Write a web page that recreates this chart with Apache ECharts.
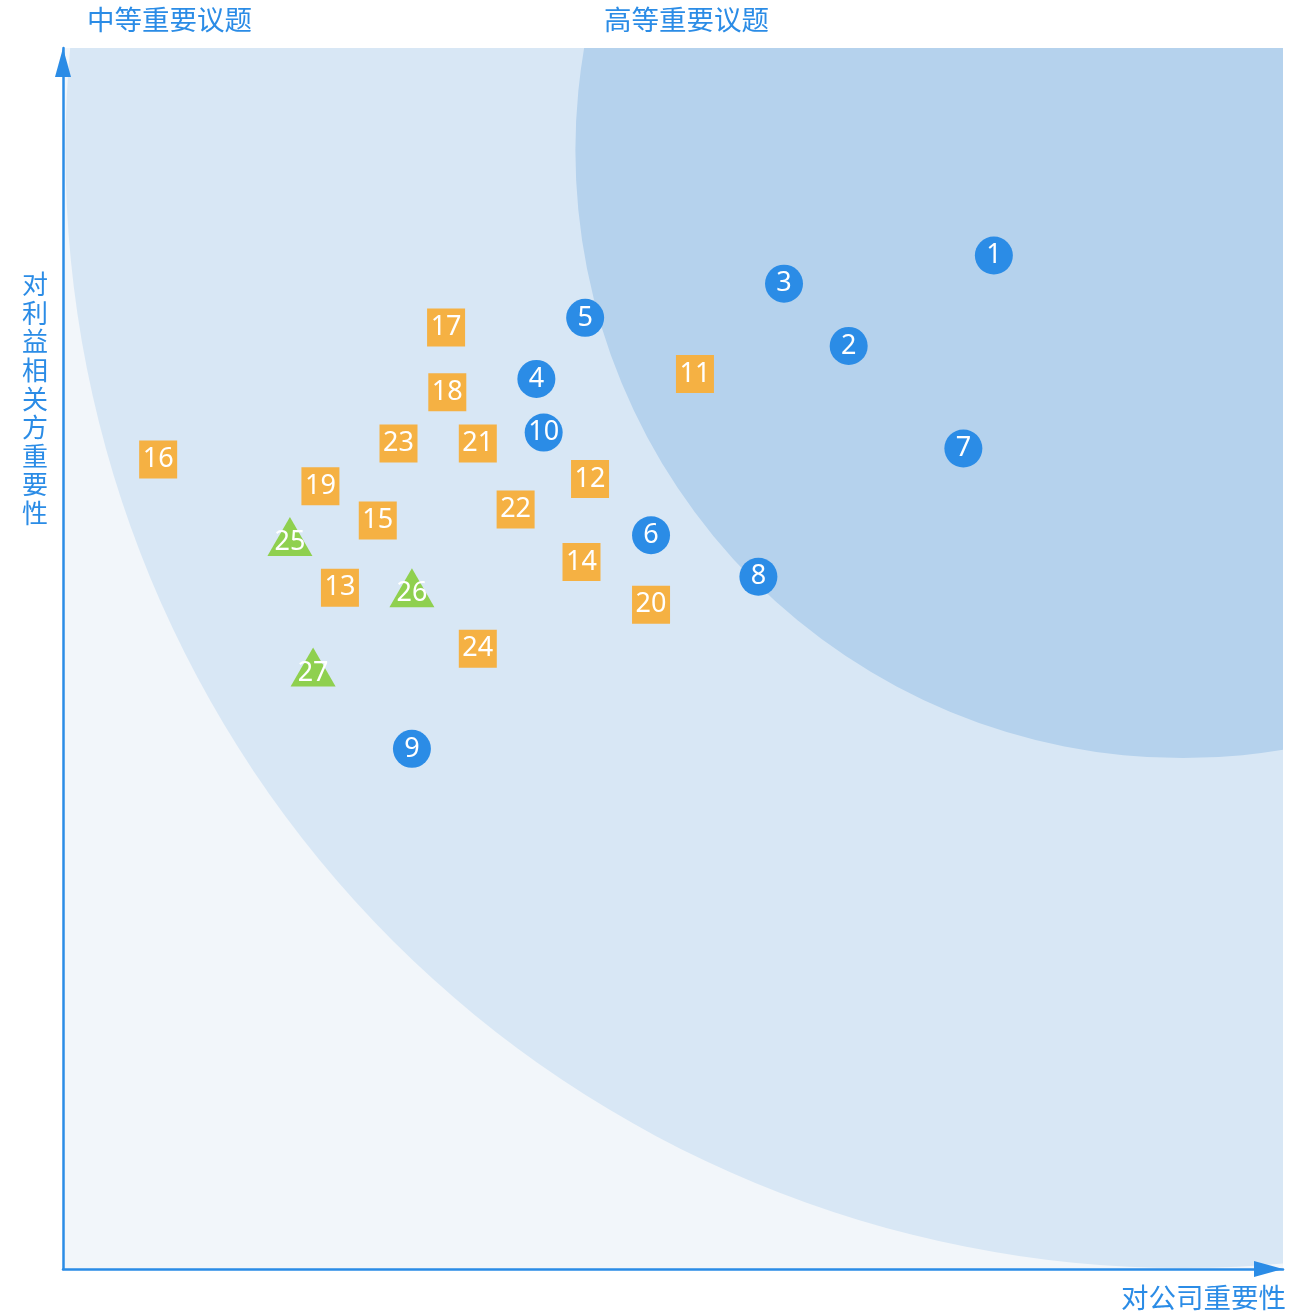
<!DOCTYPE html>
<html>
<head>
<meta charset="utf-8">
<script src="https://cdn.jsdelivr.net/npm/echarts@6/dist/echarts.min.js"></script>
<style>
html, body { margin: 0; padding: 0; background: #fff; }
#main { width: 1313px; height: 1314px; }
</style>
</head>
<body>
<div id="main"></div>
<script>
/** 数据 */
// 区域圆：圆心与半径（坐标轴单位 0-100）
var zoneCenter = [91.8, 91.6]
var zoneRadius = [91.6, 49.8]
var zoneColor = ['#d8e7f5', '#b5d2ed']

// 蓝色圆点议题
var blueIds = ['1', '2', '3', '4', '5', '6', '7', '8', '9', '10']
var blueX = [76.3, 64.4, 59.1, 38.8, 42.8, 48.2, 73.8, 57.0, 28.6, 39.4]
var blueY = [83.0, 75.6, 80.7, 72.9, 77.9, 60.1, 67.2, 56.7, 42.6, 68.5]

// 橙色方块议题
var orangeIds = ['11', '12', '13', '14', '15', '16', '17', '18', '19', '20', '21', '22', '23', '24']
var orangeX = [51.8, 43.2, 22.7, 42.5, 25.8, 7.8, 31.4, 31.5, 21.1, 48.2, 34.0, 37.1, 27.5, 34.0]
var orangeY = [73.3, 64.7, 55.8, 57.9, 61.3, 66.3, 77.1, 71.8, 64.1, 54.4, 67.6, 62.2, 67.6, 50.8]

// 绿色三角议题
var greenIds = ['25', '26', '27']
var greenX = [18.6, 28.6, 20.5]
var greenY = [60.0, 55.8, 49.3]

/** 样式 */
var blue = '#2b8ce6'
var textFont = 'Noto Sans CJK SC'

/** 组合点数据 */
var buildPoints = function(ids, xs, ys) {
	var list = []
	for (var i = 0; i < ids.length; i++) {
		list.push({ name: ids[i], value: [xs[i], ys[i]] })
	}
	return list
}

var zoneData = []
for (var k = 0; k < zoneRadius.length; k++) {
	zoneData.push([zoneCenter[0], zoneCenter[1], zoneRadius[k], k])
}

/** 区域圆绘制 */
var renderZone = function(params, api) {
	var c = api.coord([api.value(0), api.value(1)])
	var r = api.size([api.value(2), 0])[0]
	var cs = params.coordSys
	return {
		type: 'circle',
		shape: { cx: c[0], cy: c[1], r: r },
		style: { fill: zoneColor[api.value(3)] },
		clipPath: {
			type: 'rect',
			shape: { x: cs.x, y: cs.y, width: cs.width, height: cs.height }
		}
	}
}

var numLabel = {
	show: true,
	position: 'inside',
	formatter: '{b}',
	color: '#fff',
	fontSize: 27,
	fontFamily: 'Noto Sans'
}

var axisCommon = {
	type: 'value',
	min: 0,
	max: 100,
	axisLine: {
		show: true,
		symbol: ['none', 'triangle'],
		symbolSize: [16, 29],
		symbolOffset: [0, -14.5],
		lineStyle: { color: blue, width: 2.5 }
	},
	axisTick: { show: false },
	axisLabel: { show: false },
	splitLine: { show: false }
}

var titleStyle = { color: blue, fontSize: 27.5, fontWeight: 'normal', fontFamily: textFont }

var option = {
	animation: false,
	title: [
		{ text: '中等重要议题', left: 87, top: 6, padding: 0, textStyle: titleStyle },
		{ text: '高等重要议题', left: 604, top: 6, padding: 0, textStyle: titleStyle },
		{ text: '对公司重要性', left: 1121, top: 1284, padding: 0, textStyle: titleStyle },
		{
			text: '对\n利\n益\n相\n关\n方\n重\n要\n性', left: 22, top: 270, padding: 0,
			textStyle: { color: blue, fontSize: 26, fontWeight: 'normal', fontFamily: textFont, lineHeight: 28.6 }
		}
	],
	grid: {
		left: 63, right: 30, top: 48, bottom: 45,
		show: true, backgroundColor: '#f2f6fa', borderWidth: 0
	},
	xAxis: axisCommon,
	yAxis: axisCommon,
	series: [
		{
			type: 'custom',
			renderItem: renderZone,
			data: zoneData,
			silent: true,
			z: 0
		},
		{
			type: 'scatter',
			symbol: 'circle',
			symbolSize: 38,
			itemStyle: { color: blue, opacity: 1 },
			label: numLabel,
			data: buildPoints(blueIds, blueX, blueY),
			z: 5
		},
		{
			type: 'scatter',
			symbol: 'rect',
			symbolSize: 38,
			itemStyle: { color: '#f5b143', opacity: 1 },
			label: numLabel,
			data: buildPoints(orangeIds, orangeX, orangeY),
			z: 5
		},
		{
			type: 'scatter',
			symbol: 'triangle',
			symbolSize: [45, 39],
			itemStyle: { color: '#8fd04f', opacity: 1 },
			label: Object.assign({}, numLabel, { offset: [0, 6] }),
			data: buildPoints(greenIds, greenX, greenY),
			z: 5
		}
	]
}

var myChart = echarts.init(document.getElementById('main'))
myChart.setOption(option)
</script>
</body>
</html>
